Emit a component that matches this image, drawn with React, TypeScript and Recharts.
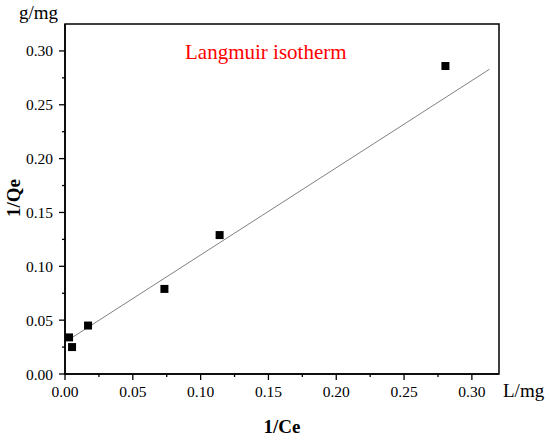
import { ScatterChart, Scatter, XAxis, YAxis, ZAxis, ReferenceArea } from "recharts";

// measured points (1/Ce, 1/Qe)
const ceInv = [0.003, 0.0052, 0.017, 0.0733, 0.114, 0.2805];
const qeInv = [0.034, 0.025, 0.045, 0.079, 0.129, 0.286];

// linear fit, end points
const fitX = [0.003, 0.313];
const fitY = [0.032, 0.283];

const xMajor = [0, 0.05, 0.1, 0.15, 0.2, 0.25, 0.3];
const xMinor = [0.025, 0.075, 0.125, 0.175, 0.225, 0.275];
const yMajor = [0, 0.05, 0.1, 0.15, 0.2, 0.25, 0.3];
const yMinor = [0.025, 0.075, 0.125, 0.175, 0.225, 0.275];

const points = ceInv.map((x, i) => ({ x, y: qeInv[i] }));
const fit = fitX.map((x, i) => ({ x, y: fitY[i] }));
const xTicks = [...xMajor, ...xMinor].sort((a, b) => a - b);
const yTicks = [...yMajor, ...yMinor].sort((a, b) => a - b);

const FONT = "'Liberation Serif', 'Times New Roman', serif";

function XTick(props: any) {
  const { x, y, payload } = props;
  const major = xMajor.includes(payload.value);
  return (
    <g>
      <line x1={x} x2={x} y1={y} y2={y + (major ? 6 : 3)} stroke="#000" strokeWidth={1.3} />
      {major && (
        <text x={x} y={y + 23} textAnchor="middle" fontSize={15.5} fontFamily={FONT} fill="#000">
          {payload.value.toFixed(2)}
        </text>
      )}
    </g>
  );
}

function YTick(props: any) {
  const { x, y, payload } = props;
  const major = yMajor.includes(payload.value);
  return (
    <g>
      <line x1={x} x2={x - (major ? 6 : 3)} y1={y} y2={y} stroke="#000" strokeWidth={1.3} />
      {major && (
        <text x={x - 12} y={y} textAnchor="end" dominantBaseline="central" fontSize={15.5} fontFamily={FONT} fill="#000">
          {payload.value.toFixed(2)}
        </text>
      )}
    </g>
  );
}

export default function App() {
  return (
    <div style={{ position: "absolute", left: 0, top: 0, width: 550, height: 440, background: "#fff" }}>
      <ScatterChart width={550} height={440} margin={{ top: 24, right: 51, bottom: 0, left: 0 }}>
        <XAxis
          type="number"
          dataKey="x"
          domain={[0, 0.32]}
          ticks={xTicks}
          interval={0}
          tickSize={0}
          tickMargin={0}
          tickLine={false}
          tick={<XTick />}
          axisLine={{ stroke: "#000", strokeWidth: 1.5 }}
          height={66}
          allowDataOverflow
        />
        <YAxis
          type="number"
          dataKey="y"
          domain={[0, 0.325]}
          ticks={yTicks}
          interval={0}
          tickSize={0}
          tickMargin={0}
          tickLine={false}
          tick={<YTick />}
          axisLine={{ stroke: "#000", strokeWidth: 1.5 }}
          width={65}
          allowDataOverflow
        />
        <ZAxis range={[56, 56]} />
        <ReferenceArea x1={0} x2={0.32} y1={0} y2={0.325} fill="none" stroke="#000" strokeWidth={1.5} />
        <Scatter
          data={fit}
          line={{ stroke: "#808080", strokeWidth: 1 }}
          shape={() => <g />}
          isAnimationActive={false}
        />
        <Scatter data={points} fill="#000" shape="square" isAnimationActive={false} />
      </ScatterChart>
      <svg
        width={550}
        height={440}
        style={{ position: "absolute", left: 0, top: 0, pointerEvents: "none" }}
        fontFamily={FONT}
      >
        <text x={19} y={19} fontSize={19} fill="#000">g/mg</text>
        <text x={20} y={198} fontSize={19} fontWeight="bold" textAnchor="middle" transform="rotate(-90 20 198)" fill="#000">
          1/Qe
        </text>
        <text x={282} y={433} fontSize={19} fontWeight="bold" textAnchor="middle" fill="#000">1/Ce</text>
        <text x={503} y={397} fontSize={19} fill="#000">L/mg</text>
        <text x={185} y={59} fontSize={21} fill="#ff0000">Langmuir isotherm</text>
      </svg>
    </div>
  );
}
